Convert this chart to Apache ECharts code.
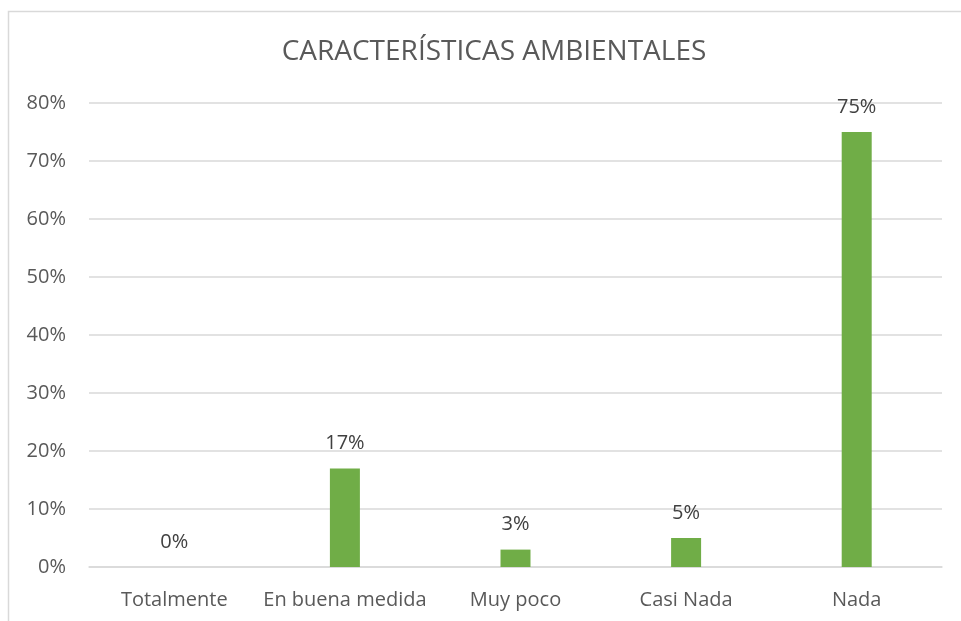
<!DOCTYPE html>
<html>
<head>
<meta charset="utf-8">
<script src="https://cdn.jsdelivr.net/npm/echarts@6/dist/echarts.min.js"></script>
<style>
  html, body { margin: 0; padding: 0; background: #fff; }
  #main { width: 961px; height: 621px; }
</style>
</head>
<body>
<div id="main"></div>
<script>
  var categories = ['Totalmente', 'En buena medida', 'Muy poco', 'Casi Nada', 'Nada'];
  var values = [0, 17, 3, 5, 75];
  var yTicks = [0, 10, 20, 30, 40, 50, 60, 70, 80];

  var chart = echarts.init(document.getElementById('main'));
  var font = '"Open Sans", "Liberation Sans", sans-serif';
  chart.setOption({
    backgroundColor: '#fff',
    textStyle: { fontFamily: font },
    graphic: [{
      type: 'rect',
      shape: { x: 8.5, y: 11.5, width: 1000, height: 700 },
      style: { fill: 'none', stroke: '#d9d9d9', lineWidth: 1.5 },
      silent: true
    }],
    title: {
      text: 'CARACTERÍSTICAS AMBIENTALES',
      left: 489,
      textAlign: 'center',
      top: 33,
      textStyle: { fontFamily: font, fontSize: 28, fontWeight: 'normal', color: '#595959' }
    },
    grid: { left: 89, right: 19, top: 103, bottom: 54 },
    xAxis: {
      type: 'category',
      data: categories,
      axisLine: { lineStyle: { color: '#d9d9d9', width: 1.5 } },
      axisTick: { show: false },
      axisLabel: { color: '#595959', fontSize: 20, margin: 23, interval: 0, fontFamily: font }
    },
    yAxis: {
      type: 'value',
      min: yTicks[0],
      max: yTicks[yTicks.length - 1],
      interval: 10,
      axisLine: { show: false },
      axisTick: { show: false },
      splitLine: { lineStyle: { color: '#d9d9d9', width: 1.5 } },
      axisLabel: { color: '#595959', fontSize: 20, margin: 23, fontFamily: font, formatter: '{value}%' }
    },
    series: [{
      type: 'bar',
      data: values,
      barWidth: 30,
      itemStyle: { color: '#70ad47' },
      label: {
        show: true,
        position: 'top',
        distance: 15,
        formatter: '{c}%',
        color: '#404040',
        fontSize: 20,
        fontFamily: font
      }
    }]
  });
</script>
</body>
</html>
